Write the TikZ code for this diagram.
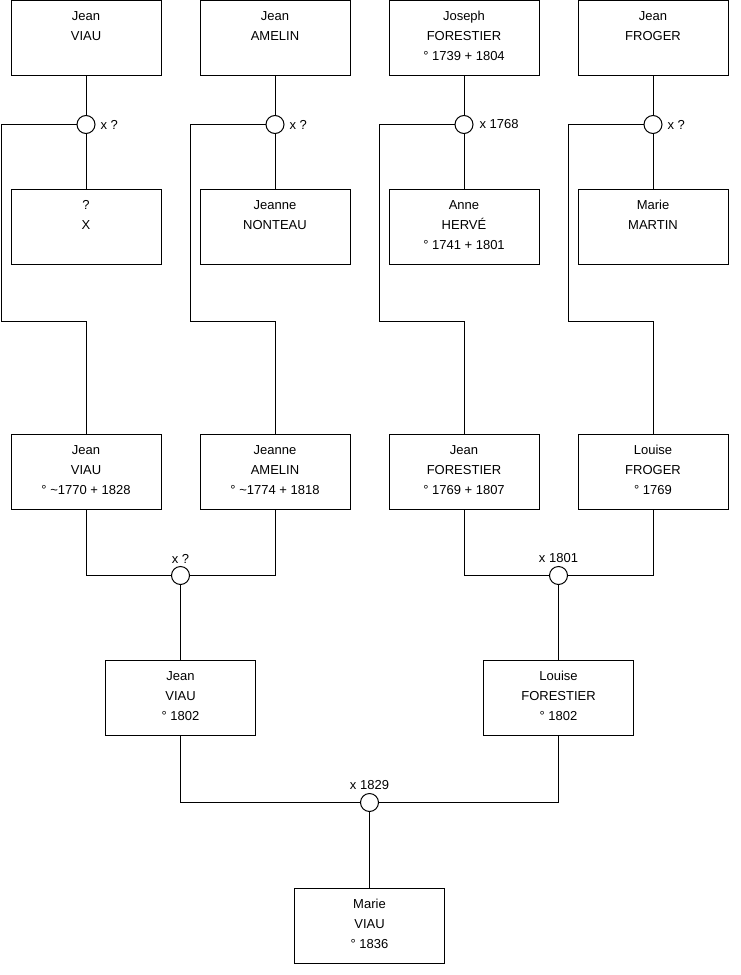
\documentclass[tikz,border=0pt]{standalone}
\usepackage{fontspec}
\setmainfont{Liberation Sans}
\usetikzlibrary{positioning,calc}

\begin{document}
\begin{tikzpicture}[
  node distance=39pt,
  line width=1pt,
  box/.style={draw, minimum width=150pt, minimum height=75pt, align=center, inner sep=0pt, outer sep=0pt,
    font=\fontsize{13}{20}\selectfont,
    execute at begin node={\rule{0pt}{14pt}},
    execute at end node={\rule[-4pt]{0pt}{1pt}}},
  marr/.style={draw, circle, minimum size=18pt, inner sep=0pt, outer sep=0pt},
  date/.style={font=\fontsize{13}{15}\selectfont, inner sep=1pt}
]
\useasboundingbox (0,0) rectangle (740pt,-975pt);

% top row
\node[box, anchor=north west] (hviau) at (11pt,-0.5pt) {Jean\\VIAU\\};
\node[box, right=of hviau] (hamelin) {Jean\\AMELIN\\};
\node[box, right=of hamelin] (hforestier) {Joseph\\FORESTIER\\° 1739 + 1804};
\node[box, right=of hforestier] (hfroger) {Jean\\FROGER\\};

\node[marr, below=40pt of hviau] (mviau) {};
\node[marr, below=40pt of hamelin] (mamelin) {};
\node[marr, below=40pt of hforestier] (mforestier) {};
\node[marr, below=40pt of hfroger] (mfroger) {};
\node[date, right=4pt of mviau] (dviau) {x ?};
\node[date, right=4pt of mamelin] (damelin) {x ?};
\node[date, right=5pt of mforestier] (dforestier) {x 1768};
\node[date, right=4pt of mfroger] (dfroger) {x ?};

\node[box, below=56pt of mviau] (wviau) {?\\X\\};
\node[box, below=56pt of mamelin] (wamelin) {Jeanne\\NONTEAU\\};
\node[box, below=56pt of mforestier] (wforestier) {Anne\\HERVÉ\\° 1741 + 1801};
\node[box, below=56pt of mfroger] (wfroger) {Marie\\MARTIN\\};

% children
\node[box, below=170pt of wviau] (cviau) {Jean\\VIAU\\° \textasciitilde1770 + 1828};
\node[box, below=170pt of wamelin] (camelin) {Jeanne\\AMELIN\\° \textasciitilde1774 + 1818};
\node[box, below=170pt of wforestier] (cforestier) {Jean\\FORESTIER\\° 1769 + 1807};
\node[box, below=170pt of wfroger] (cfroger) {Louise\\FROGER\\° 1769};

\foreach \n in {viau,amelin,forestier,froger} {
  \draw (h\n) -- (m\n) -- (w\n);
  \draw (m\n.west) -| ([shift={(-10pt,-57pt)}]w\n.south west) -| (c\n.north);
}

% parents
\node[marr] (mva) at ($(cviau.south)!.5!(camelin.south)+(0,-66pt)$) {};
\node[marr] (mfo) at ($(cforestier.south)!.5!(cfroger.south)+(0,-66pt)$) {};
\node[date, above=2pt of mva] (dva) {x ?};
\node[date, above=2pt of mfo] (dfo) {x 1801};
\draw (cviau.south) |- (mva.west);
\draw (camelin.south) |- (mva.east);
\draw (cforestier.south) |- (mfo.west);
\draw (cfroger.south) |- (mfo.east);

\node[box, below=76pt of mva] (pviau) {Jean\\VIAU\\° 1802};
\node[box, below=76pt of mfo] (pforestier) {Louise\\FORESTIER\\° 1802};
\draw (mva) -- (pviau);
\draw (mfo) -- (pforestier);

% bottom
\node[marr] (mmarie) at ($(pviau.south)!.5!(pforestier.south)+(0,-67pt)$) {};
\node[date, above=2pt of mmarie] (dmarie) {x 1829};
\draw (pviau.south) |- (mmarie.west);
\draw (pforestier.south) |- (mmarie.east);
\node[box, below=77pt of mmarie] (marie) {Marie\\VIAU\\° 1836};
\draw (mmarie) -- (marie);
\end{tikzpicture}
\end{document}
